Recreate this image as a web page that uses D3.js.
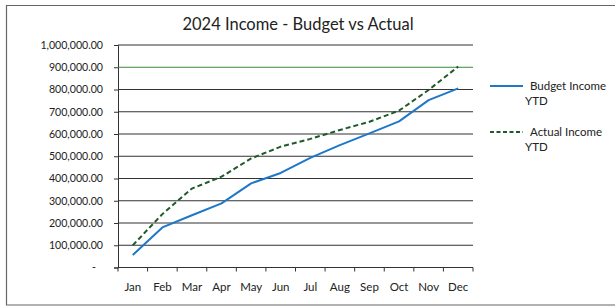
<!DOCTYPE html>
<html>
<head>
<meta charset="utf-8">
<script src="https://cdn.jsdelivr.net/npm/d3@7"></script>
<style>
  body { margin: 0; background: #fff; }
  svg { display: block; font-family: Lato, "Open Sans", sans-serif; }
</style>
</head>
<body>
<svg id="chart"></svg>
<script>
// values
var months = ["Jan", "Feb", "Mar", "Apr", "May", "Jun", "Jul", "Aug", "Sep", "Oct", "Nov", "Dec"];
var budgetIncome = [56000, 180000, 235000, 288000, 378000, 425000, 493000, 550000, 603000, 657000, 752000, 805000];
var actualIncome = [100000, 240000, 355000, 408000, 490000, 543000, 578000, 618000, 655000, 705000, 798000, 903000];
var yTicks = [0, 100000, 200000, 300000, 400000, 500000, 600000, 700000, 800000, 900000, 1000000];
var seriesNames = ["Budget Income", "Actual Income"];

var svgWidth = 615, svgHeight = 306;
var margin = {top: 45, right: 142, bottom: 38.5, left: 118};
var width = svgWidth - margin.left - margin.right;
var height = svgHeight - margin.top - margin.bottom;

var svg = d3.select("#chart")
  .attr("width", svgWidth)
  .attr("height", svgHeight);

// outer chart border (scan shows left, top, bottom)
svg.append("path")
  .attr("d", "M615,5.5H6.5V305H615")
  .attr("fill", "none")
  .attr("stroke", "#666")
  .attr("stroke-width", 1.2);

svg.append("text")
  .attr("x", 298)
  .attr("y", 29.5)
  .attr("text-anchor", "middle")
  .attr("font-size", 16.5)
  .attr("fill", "#222")
  .text("2024 Income - Budget vs Actual");

var g = svg.append("g")
  .attr("transform", "translate(" + margin.left + "," + margin.top + ")");

var x = d3.scaleBand().domain(months).range([0, width]);
var y = d3.scaleLinear().domain([0, 1000000]).range([height, 0]);

var fmt = function (d) {
  return d === 0 ? "-" : d3.format(",.2f")(d);
};

// y axis with gridlines
var yAxis = g.append("g")
  .call(d3.axisLeft(y).tickValues(yTicks).tickSize(4).tickPadding(11).tickFormat(fmt));
yAxis.select(".domain").attr("stroke", "#333");
yAxis.selectAll("text")
  .attr("font-size", 10.6)
  .attr("font-family", "Lato, sans-serif")
  .attr("fill", "#222")
  .attr("dx", function (d) { return d === 0 ? -7 : 0; });
yAxis.selectAll(".tick line").attr("stroke", "#333");

g.append("g")
  .selectAll("line")
  .data(yTicks)
  .join("line")
  .attr("x1", 0)
  .attr("x2", width)
  .attr("y1", function (d) { return y(d); })
  .attr("y2", function (d) { return y(d); })
  .attr("stroke", function (d) { return d === 900000 ? "#3a8a3a" : "#333"; })
  .attr("stroke-width", 1.1);

// x axis, ticks between categories
var xAxis = g.append("g")
  .attr("transform", "translate(0," + height + ")")
  .call(d3.axisBottom(x).tickSize(0).tickPadding(15));
xAxis.select(".domain").remove();
xAxis.selectAll("text")
  .attr("font-size", 11.5)
  .attr("font-family", "Lato, sans-serif")
  .attr("fill", "#222");

g.append("g")
  .attr("transform", "translate(0," + height + ")")
  .selectAll("line")
  .data(d3.range(months.length + 1))
  .join("line")
  .attr("x1", function (i) { return i * x.step(); })
  .attr("x2", function (i) { return i * x.step(); })
  .attr("y1", 0)
  .attr("y2", 4)
  .attr("stroke", "#333");

var line = d3.line()
  .x(function (d, i) { return x(months[i]) + x.bandwidth() / 2; })
  .y(function (d) { return y(d); });

g.append("path")
  .datum(budgetIncome)
  .attr("fill", "none")
  .attr("stroke", "#1f77c9")
  .attr("stroke-width", 2)
  .attr("stroke-linejoin", "round")
  .attr("d", line);

g.append("path")
  .datum(actualIncome)
  .attr("fill", "none")
  .attr("stroke", "#1e5a2a")
  .attr("stroke-width", 2)
  .attr("stroke-dasharray", "5,3")
  .attr("d", line);

// legend
var legend = svg.append("g");
legend.append("line")
  .attr("x1", 490).attr("x2", 523).attr("y1", 86).attr("y2", 86)
  .attr("stroke", "#1f77c9").attr("stroke-width", 2);
legend.append("line")
  .attr("x1", 490).attr("x2", 523).attr("y1", 132).attr("y2", 132)
  .attr("stroke", "#1e5a2a").attr("stroke-width", 2).attr("stroke-dasharray", "4,2.5");

[[seriesNames[0], 90], [seriesNames[1], 136]].forEach(function (p) {
  var t = legend.append("text")
    .attr("font-size", 11.5)
    .attr("fill", "#222");
  t.append("tspan").attr("x", 530).attr("y", p[1]).text(p[0]);
  t.append("tspan").attr("x", 525).attr("y", p[1] + 15).text("YTD");
});
</script>
</body>
</html>
